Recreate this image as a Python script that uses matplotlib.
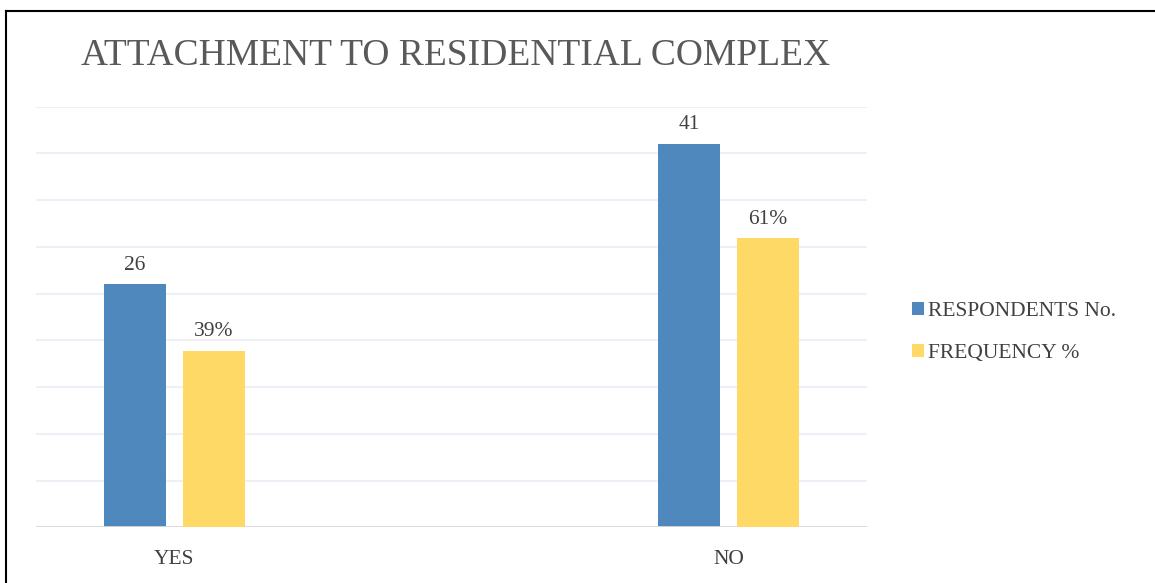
import matplotlib.pyplot as plt
from matplotlib.lines import Line2D
import numpy as np

categories = ["YES", "NO"]
respondents = [26, 41]
frequency = [39, 61]
series_names = ["RESPONDENTS No.", "FREQUENCY %"]

BLUE = "#4F88BC"
YELLOW = "#FED966"
TEXT = "#404040"

plt.rcParams["font.family"] = ["Liberation Serif", "DejaVu Serif"]

fig = plt.figure(figsize=(11.55, 5.83), dpi=100)
ax = fig.add_axes([0.0312, 0.0952, 0.7194, 0.7218])
ax2 = ax.twinx()

x = np.arange(len(categories))
width = 0.112
offset = 0.0714

b1 = ax.bar(x - offset, respondents, width, color=BLUE, zorder=3, label=series_names[0])
# frequency sits on its own (hidden) secondary scale, as in the source chart
b2 = ax2.bar(x + offset, frequency, width, color=YELLOW, zorder=3, label=series_names[1])

ax.set_ylim(0, 45)
ax.set_yticks(np.arange(0, 46, 5))
ax2.set_ylim(4.4, 86.8)
ax.set_xlim(-0.25, 1.25)

ax.grid(axis="y", color="#EEF0F7", linewidth=1.5, zorder=0)
ax.set_axisbelow(True)
for a in (ax, ax2):
    for s in a.spines.values():
        s.set_visible(False)
    a.tick_params(left=False, right=False, bottom=False, labelleft=False, labelright=False)
ax.axhline(0, color="#D9D9D9", linewidth=2, zorder=4)

ax.set_xticks(x)
ax.set_xticklabels(categories, fontsize=15.5, color=TEXT)
ax.tick_params(axis="x", pad=13)

for rect, v in zip(b1, respondents):
    ax.annotate(str(v), (rect.get_x() + rect.get_width() / 2, rect.get_height()),
                xytext=(0, 7), textcoords="offset points", ha="center", va="bottom",
                fontsize=15.5, color=TEXT)
for rect, v in zip(b2, frequency):
    ax2.annotate(f"{v}%", (rect.get_x() + rect.get_width() / 2, rect.get_height()),
                 xytext=(0, 7), textcoords="offset points", ha="center", va="bottom",
                 fontsize=15.5, color=TEXT)

fig.text(0.0705, 0.905, "ATTACHMENT TO RESIDENTIAL COMPLEX", fontsize=27,
         color="#595959", va="center", ha="left")

handles = [b1, b2]
fig.legend(handles, series_names, loc="center left", bbox_to_anchor=(0.773, 0.43),
           frameon=False, fontsize=15.5, handlelength=0.55, handleheight=0.55,
           handletextpad=0.2, labelspacing=1.05, labelcolor=TEXT)

# outer frame (top and left edges visible in the original crop)
fig.add_artist(Line2D([0.0056, 1], [0.9806, 0.9806], transform=fig.transFigure,
                      color="black", linewidth=1.5))
fig.add_artist(Line2D([0.0056, 0.0056], [0, 0.9806], transform=fig.transFigure,
                      color="black", linewidth=1.5))

fig.savefig("out.png", dpi=100)
